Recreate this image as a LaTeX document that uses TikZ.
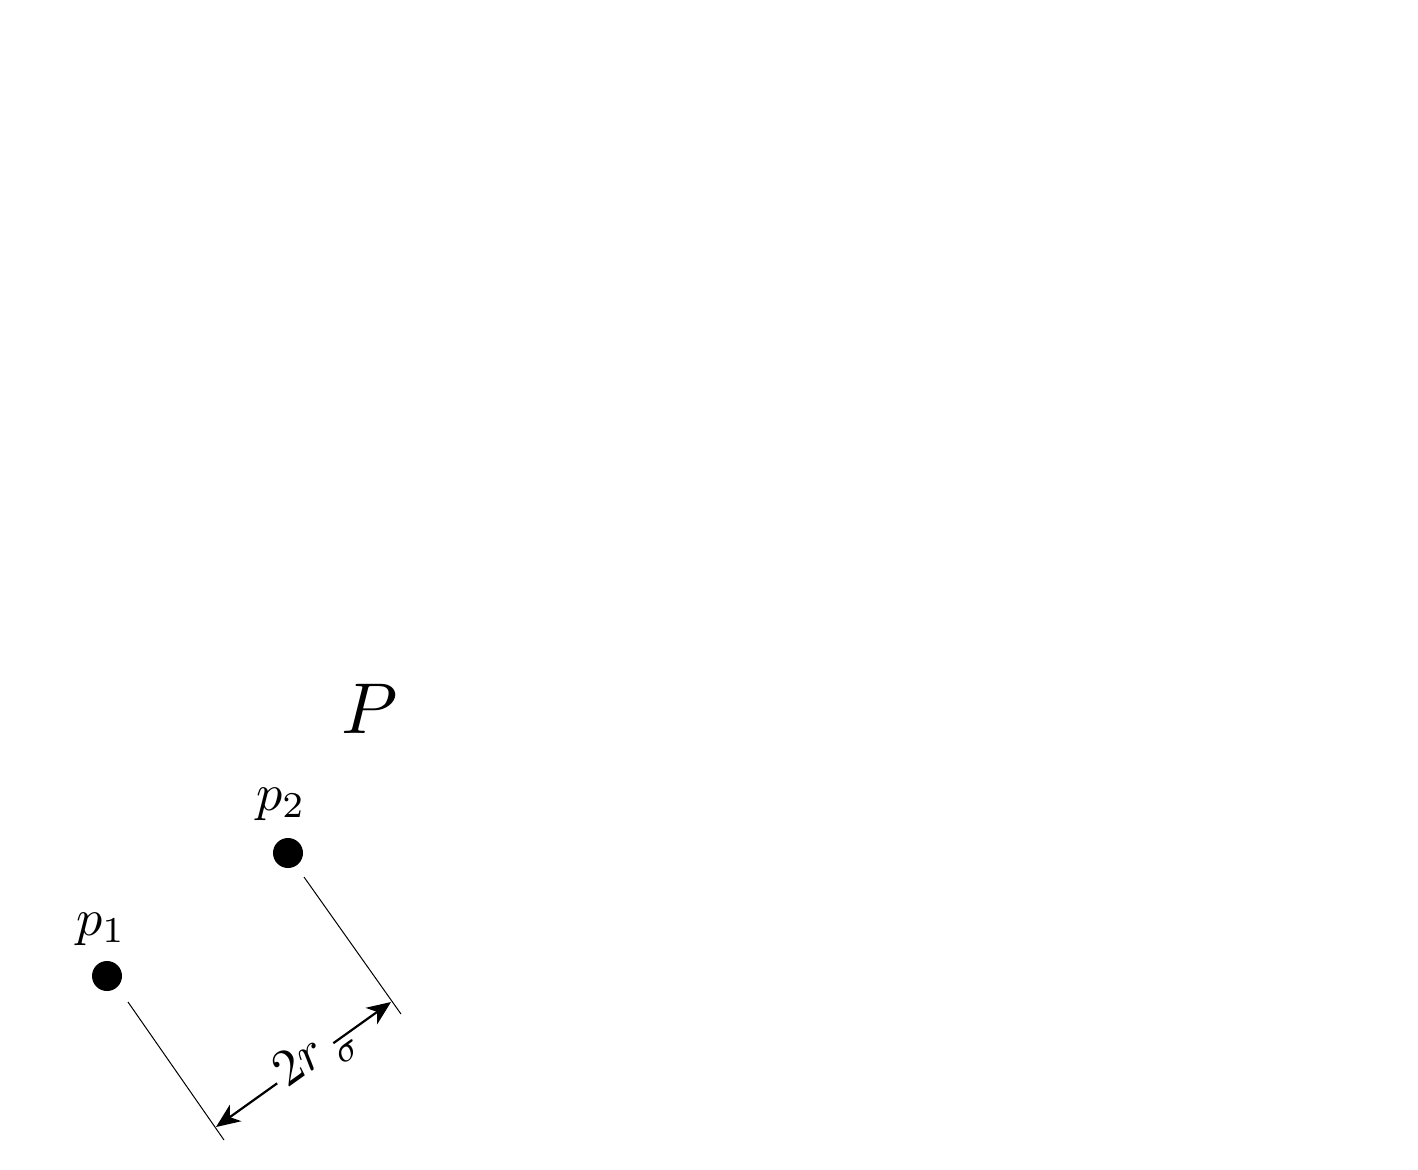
\documentclass[tikz,border=0pt]{standalone}
\usepackage{graphicx}
\usetikzlibrary{arrows.meta}
\newcommand{\mysz}[2]{\scalebox{#1}{#2}}
\begin{document}
\begin{tikzpicture}[x=0.5pt,y=-0.5pt,
  dot/.style={circle,fill=black,inner sep=0pt,minimum size=15pt},
  extline/.style={line width=0.5pt},
  dimarrow/.style={line width=1.1pt,{Stealth[length=12pt,width=10pt,inset=3.5pt]}-{Stealth[length=12pt,width=10pt,inset=3.5pt]}}]
\useasboundingbox (0,0) rectangle (1418,1169);
\node[dot] (p1) at (107,976) {};
\node[dot] (p2) at (288,853) {};
\node (l1) at (101,929) {\mysz{2.6}{$p_1$}};
\node (l2) at (281,804) {\mysz{2.6}{$p_2$}};
\node (P) at (370,709) {\mysz{3.6}{$P$}};
\coordinate (e1s) at (128,1002);
\coordinate (e1e) at (224,1140);
\coordinate (e2s) at (304,877);
\coordinate (e2e) at (401,1014);
\draw[extline] (e1s) -- (e1e);
\draw[extline] (e2s) -- (e2e);
\coordinate (a1) at (216,1127);
\coordinate (a2) at (391,1002);
\draw[dimarrow] (a1) -- node[sloped,fill=white,inner sep=2.5pt,pos=0.51] (dim) {\mysz{2.6}{$2r\hspace{1.5pt}\rlap{\raisebox{-1.2pt}{$_{\sigma}$}}$}} (a2);
\end{tikzpicture}
\end{document}
